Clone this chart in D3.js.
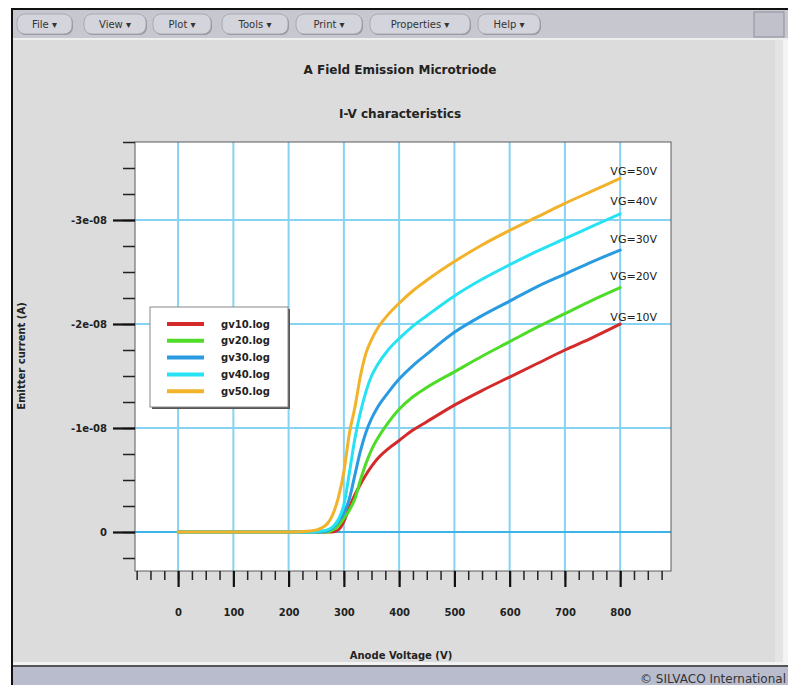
<!DOCTYPE html>
<html><head><meta charset="utf-8">
<script src="https://cdn.jsdelivr.net/npm/d3@7"></script>
<style>
html,body{margin:0;padding:0;background:#fff;}
svg{display:block;font-family:"DejaVu Sans",Arial,sans-serif;}
</style></head>
<body>
<svg id="c" width="788" height="685"></svg>
<script>
// ---- data ----
const UNIT = 1e-8; // values below are in units of 1e-8 A (negative = emitter current)
const voltage = [0,100,200,240,260,270,280,290,300,310,320,330,340,350,360,380,400,425,450,500,550,600,650,700,750,800];
const gv10 = [0,0,0,0,0,0,0,-0.02,-0.10,-0.24,-0.36,-0.46,-0.55,-0.63,-0.70,-0.80,-0.88,-0.98,-1.06,-1.22,-1.36,-1.49,-1.62,-1.75,-1.87,-2.00];
const gv20 = [0,0,0,0,0,0,-0.02,-0.06,-0.13,-0.21,-0.32,-0.50,-0.66,-0.79,-0.89,-1.05,-1.18,-1.30,-1.39,-1.54,-1.69,-1.83,-1.97,-2.10,-2.23,-2.35];
const gv30 = [0,0,0,0,0,-0.01,-0.04,-0.10,-0.18,-0.32,-0.55,-0.78,-0.96,-1.09,-1.19,-1.34,-1.47,-1.60,-1.71,-1.92,-2.08,-2.22,-2.36,-2.48,-2.60,-2.71];
const gv40 = [0,0,0,0,-0.01,-0.02,-0.05,-0.12,-0.26,-0.57,-0.90,-1.15,-1.35,-1.50,-1.60,-1.75,-1.86,-1.98,-2.08,-2.27,-2.43,-2.57,-2.70,-2.82,-2.94,-3.06];
const gv50 = [0,0,0,-0.01,-0.04,-0.08,-0.17,-0.33,-0.58,-0.95,-1.20,-1.50,-1.72,-1.85,-1.95,-2.09,-2.20,-2.32,-2.42,-2.60,-2.76,-2.90,-3.03,-3.16,-3.28,-3.40];
const seriesNames = ["gv10.log","gv20.log","gv30.log","gv40.log","gv50.log"];
const seriesValues = [gv10,gv20,gv30,gv40,gv50];
const seriesColors = ["#d42a2a","#4fdc28","#2a9be0","#27e2f2","#f2b22a"];
const annoLabels = ["VG=10V","VG=20V","VG=30V","VG=40V","VG=50V"];
const annoY = [-2.07,-2.46,-2.82,-3.18,-3.47];
const xTicks = [0,100,200,300,400,500,600,700,800];
const yTicks = [0,-1,-2,-3];
const menuItems = ["File","View","Plot","Tools","Print","Properties","Help"];
const title1 = "A Field Emission Microtriode";
const title2 = "I-V characteristics";
const xTitle = "Anode Voltage (V)";
const yTitle = "Emitter current (A)";

// ---- layout ----
const svg = d3.select("#c");
const W = 788, H = 685;
const L = 135, R = 671, T = 142, B = 571;

// window chrome
svg.append("rect").attr("x",0).attr("y",0).attr("width",W).attr("height",H).attr("fill","#ffffff");
svg.append("rect").attr("x",11).attr("y",8).attr("width",W-11).attr("height",H-8).attr("fill","#111");
svg.append("rect").attr("x",13).attr("y",10).attr("width",W-13).attr("height",28).attr("fill","#c6c7cf");
svg.append("rect").attr("x",13).attr("y",38).attr("width",W-13).attr("height",2).attr("fill","#eeeeee");
svg.append("rect").attr("x",13).attr("y",40).attr("width",770).attr("height",622).attr("fill","#dcdcdc");
svg.append("rect").attr("x",775).attr("y",40).attr("width",8).attr("height",622).attr("fill","#e4e4e4");
svg.append("rect").attr("x",783).attr("y",40).attr("width",5).attr("height",622).attr("fill","#f4f4f4");
svg.append("rect").attr("x",13).attr("y",662).attr("width",W-13).attr("height",3).attr("fill","#f2f2f2");
svg.append("rect").attr("x",13).attr("y",665).attr("width",W-13).attr("height",2).attr("fill","#555");
svg.append("rect").attr("x",13).attr("y",667).attr("width",W-13).attr("height",18).attr("fill","#b9bccd");
svg.append("text").attr("x",786).attr("y",683).attr("text-anchor","end").attr("font-size",12).attr("fill","#333")
  .text("\u00a9 SILVACO International");
// menu right box
svg.append("rect").attr("x",754).attr("y",12).attr("width",30).attr("height",25).attr("fill","#c0c1ca").attr("stroke","#8e8f98");

// menu buttons
const menuX = [17,84,153,222,296,370,478];
const menuW = [55,62,58,66,66,100,62];
menuItems.forEach((m,i)=>{
  const g = svg.append("g").attr("transform",`translate(${menuX[i]},14)`);
  g.append("rect").attr("x",1).attr("y",1).attr("width",menuW[i]).attr("height",20).attr("rx",8).attr("fill","#8f909a");
  g.append("rect").attr("width",menuW[i]).attr("height",20).attr("rx",8).attr("fill","#d3d4dc").attr("stroke","#a8a9b2");
  g.append("text").attr("x",menuW[i]/2).attr("y",14).attr("text-anchor","middle").attr("font-size",10)
    .attr("fill","#333").text(m+" \u25be");
});

// titles
svg.append("text").attr("x",400).attr("y",74).attr("text-anchor","middle").attr("font-size",12).attr("font-weight","bold").attr("fill","#222").text(title1);
svg.append("text").attr("x",400).attr("y",118).attr("text-anchor","middle").attr("font-size",12).attr("font-weight","bold").attr("fill","#222").text(title2);

// scales
const x = d3.scaleLinear().domain([-78, 892]).range([L, R]);
const y = d3.scaleLinear().domain([0.375*UNIT, -3.75*UNIT]).range([B, T]);

// plot area
svg.append("rect").attr("x",L).attr("y",T).attr("width",R-L).attr("height",B-T).attr("fill","#fff");

// grid
const grid = svg.append("g");
xTicks.forEach(v=>{
  grid.append("line").attr("x1",x(v)).attr("x2",x(v)).attr("y1",T).attr("y2",B)
    .attr("stroke","#86d3f2").attr("stroke-width",2);
});
yTicks.forEach(v=>{
  grid.append("line").attr("x1",L).attr("x2",R).attr("y1",y(v*UNIT)).attr("y2",y(v*UNIT))
    .attr("stroke", v===0 ? "#3cb4e6" : "#86d3f2").attr("stroke-width",2);
});
svg.append("rect").attr("x",L).attr("y",T).attr("width",R-L).attr("height",B-T).attr("fill","none").attr("stroke","#5a5a5a").attr("stroke-width",1);

// axes ticks
const fmt = v => v===0 ? "0" : v.toExponential(0).replace(/e([+-])(\d)$/,"e$10$2");
const yAxisMinor = d3.axisLeft(y).tickValues(d3.range(0.25,-3.76,-0.25).map(v=>v*UNIT)).tickSize(12).tickFormat("");
svg.append("g").attr("transform",`translate(${L},0)`).call(yAxisMinor)
  .call(g=>{g.select(".domain").remove(); g.selectAll("line").attr("stroke","#222").attr("stroke-width",1.5);});
const yAxisMajor = d3.axisLeft(y).tickValues(yTicks.map(v=>v*UNIT)).tickSize(22).tickPadding(6).tickFormat(fmt);
svg.append("g").attr("transform",`translate(${L},0)`).call(yAxisMajor)
  .call(g=>{g.select(".domain").remove(); g.selectAll("line").attr("stroke","#111").attr("stroke-width",2.2);
    g.selectAll("text").attr("font-size",10).attr("font-weight","bold").attr("fill","#222").attr("font-family","DejaVu Sans");});

const xAxisMinor = d3.axisBottom(x).tickValues(d3.range(-75,876,25)).tickSize(9).tickFormat("");
svg.append("g").attr("transform",`translate(0,${B})`).call(xAxisMinor)
  .call(g=>{g.select(".domain").remove(); g.selectAll("line").attr("stroke","#222").attr("stroke-width",1.5);});
const xAxisMajor = d3.axisBottom(x).tickValues(xTicks).tickSize(16).tickPadding(22).tickFormat(d3.format("d"));
svg.append("g").attr("transform",`translate(0,${B})`).call(xAxisMajor)
  .call(g=>{g.select(".domain").remove(); g.selectAll("line").attr("stroke","#111").attr("stroke-width",2.2);
    g.selectAll("text").attr("font-size",10).attr("font-weight","bold").attr("fill","#222").attr("font-family","DejaVu Sans");});

// axis titles
svg.append("text").attr("x",401).attr("y",659).attr("text-anchor","middle").attr("font-size",10).attr("font-weight","bold").attr("fill","#222").text(xTitle);
svg.append("text").attr("transform","translate(25,356) rotate(-90)").attr("text-anchor","middle").attr("font-size",10).attr("font-weight","bold").attr("fill","#222").text(yTitle);

// curves
const line = d3.line().x((d,i)=>x(voltage[i])).y(d=>y(d*UNIT)).curve(d3.curveMonotoneX);
const clip = svg.append("clipPath").attr("id","pc").append("rect").attr("x",L).attr("y",T).attr("width",R-L).attr("height",B-T);
const curves = svg.append("g").attr("clip-path","url(#pc)");
seriesValues.forEach((vals,i)=>{
  curves.append("path").datum(vals).attr("d",line).attr("fill","none")
    .attr("stroke",seriesColors[i]).attr("stroke-width",3).attr("stroke-linejoin","round").attr("stroke-linecap","round");
});

// annotations
annoLabels.forEach((t,i)=>{
  svg.append("text").attr("x",x(800)+37).attr("y",y(annoY[i]*UNIT)).attr("dy","0.35em").attr("text-anchor","end")
    .attr("font-size",11).attr("fill","#222").text(t);
});

// legend
const lg = svg.append("g").attr("transform","translate(150,307)");
lg.append("rect").attr("x",2).attr("y",2).attr("width",138).attr("height",100).attr("fill","#555");
lg.append("rect").attr("width",138).attr("height",100).attr("fill","#fff").attr("stroke","#888");
seriesNames.forEach((n,i)=>{
  const yy = 17 + i*16.8;
  lg.append("line").attr("x1",17).attr("x2",54).attr("y1",yy).attr("y2",yy).attr("stroke",seriesColors[i]).attr("stroke-width",4);
  lg.append("text").attr("x",71).attr("y",yy).attr("dy","0.35em").attr("font-size",10).attr("font-weight","bold").attr("fill","#222").text(n);
});
</script>
</body></html>
